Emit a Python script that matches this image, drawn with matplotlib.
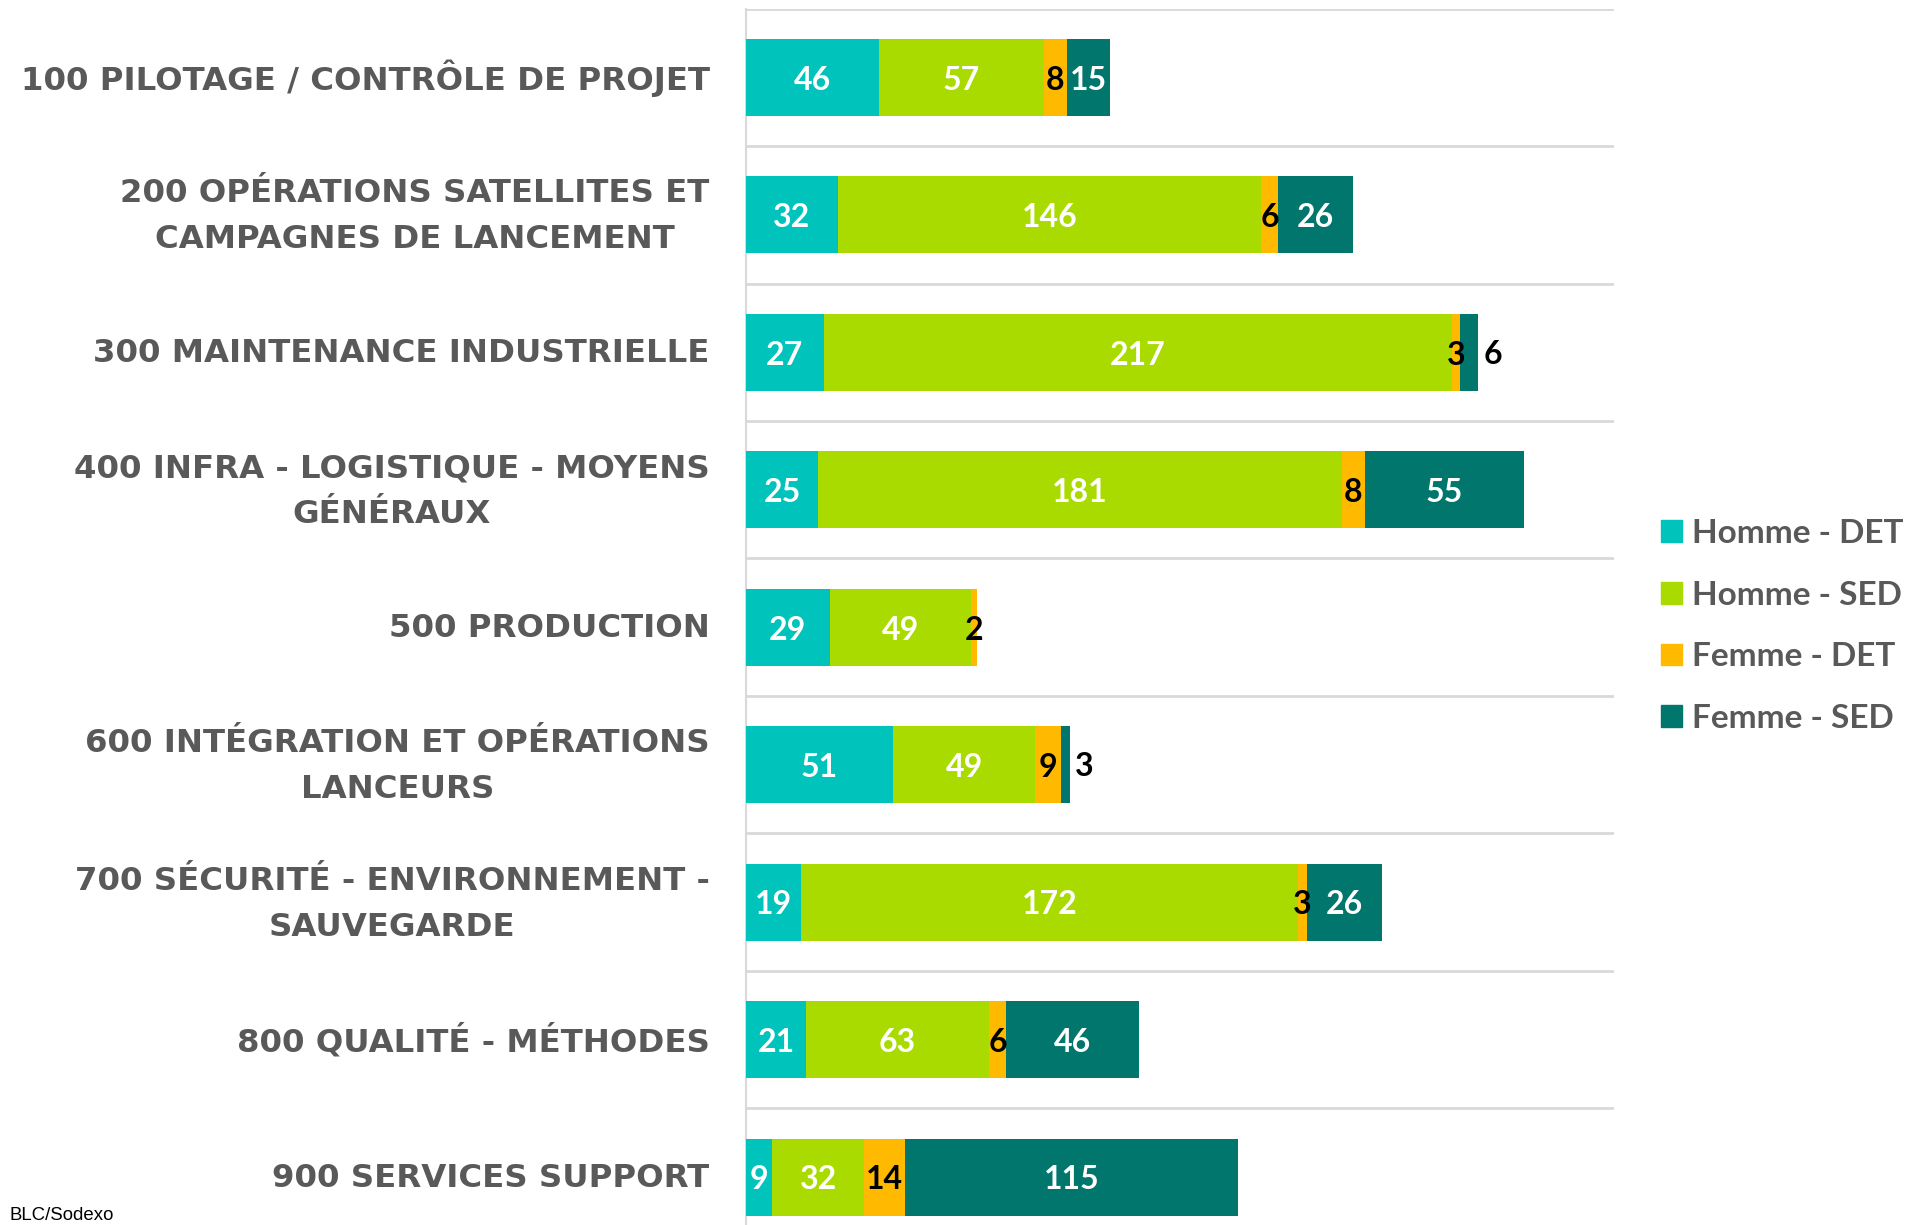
import numpy as np
import matplotlib.pyplot as plt
import matplotlib.transforms as mtransforms
from matplotlib.patches import Patch

# données par service
categories = [
    '100 PILOTAGE / CONTRÔLE DE PROJET',
    '200 OPÉRATIONS SATELLITES ET\nCAMPAGNES DE LANCEMENT',
    '300 MAINTENANCE INDUSTRIELLE',
    '400 INFRA - LOGISTIQUE - MOYENS\nGÉNÉRAUX',
    '500 PRODUCTION',
    '600 INTÉGRATION ET OPÉRATIONS\nLANCEURS',
    '700 SÉCURITÉ - ENVIRONNEMENT -\nSAUVEGARDE',
    '800 QUALITÉ - MÉTHODES',
    '900 SERVICES SUPPORT',
]
homme_det = [46, 32, 27, 25, 29, 51, 19, 21, 9]
homme_sed = [57, 146, 217, 181, 49, 49, 172, 63, 32]
femme_det = [8, 6, 3, 8, 2, 9, 3, 6, 14]
femme_sed = [15, 26, 6, 55, 0, 3, 26, 46, 115]

series_names = ['Homme - DET', 'Homme - SED', 'Femme - DET', 'Femme - SED']
series = [homme_det, homme_sed, femme_det, femme_sed]
colors = ['#00C4BB', '#A9DB00', '#FFBA00', '#00766D']

fig = plt.figure(figsize=(19.17, 12.25), dpi=100)
ax = fig.add_axes([0.389, -0.001, 0.4528, 0.994])

y = np.arange(len(categories))
left = np.zeros(len(categories))
for name, vals, col in zip(series_names, series, colors):
    vals = np.array(vals, dtype=float)
    ax.barh(y, vals, left=left, height=0.56, color=col, label=name, zorder=3)
    for i, v in enumerate(vals):
        if v <= 0:
            continue
        if name == 'Femme - SED' and v < 10:
            # petit segment : étiquette à droite de la barre
            ax.annotate(f'{int(v)}', (left[i] + v, y[i]), xytext=(4, -1.5),
                        textcoords='offset points', ha='left', va='center',
                        fontsize=23, fontweight='bold', family='Lato', color='black')
        else:
            txtcol = 'black' if name == 'Femme - DET' else 'white'
            ax.annotate(f'{int(v)}', (left[i] + v / 2, y[i]), xytext=(0, -2),
                        textcoords='offset points', ha='center', va='center',
                        fontsize=23, fontweight='bold', family='Lato', color=txtcol, zorder=4)
    left += vals

# lignes de séparation entre les catégories
ax.set_yticks(y)
ax.set_yticklabels(categories, fontsize=23.3, fontweight='bold', family='DejaVu Sans',
                   color='#595959', linespacing=1.62, multialignment='center')
ax.set_yticks(np.arange(len(categories) + 1) - 0.5, minor=True)
ax.tick_params(axis='y', which='both', length=0, pad=26)
ax.grid(axis='y', which='minor', color='#D9D9D9', linewidth=2, zorder=0)
ax.set_xticks([])
ax.set_xlim(0, 300)
ax.set_ylim(8.357, -0.5)
for s in ['top', 'right', 'bottom']:
    ax.spines[s].set_visible(False)
ax.spines['left'].set_color('#D9D9D9')
ax.spines['left'].set_linewidth(1.5)

# ajuster la position verticale des libellés
for lbl in ax.get_yticklabels():
    dy = 6.5 if '\n' in lbl.get_text() else 1.7
    shift = mtransforms.ScaledTranslation(0, dy / 72, fig.dpi_scale_trans)
    lbl.set_transform(lbl.get_transform() + shift)

handles = [Patch(color=c, label=n) for n, c in zip(series_names, colors)]
leg = fig.legend(handles=handles, loc='center left', bbox_to_anchor=(0.851, 0.489),
                 frameon=False, handlelength=0.62, handleheight=0.62, handletextpad=0.3,
                 labelspacing=0.98, prop={'family': 'Lato', 'weight': 'bold', 'size': 24})
for t in leg.get_texts():
    t.set_color('#595959')

fig.text(0.005, 0.004, 'BLC/Sodexo', fontsize=13.4, family='Liberation Sans', color='black')

fig.savefig('out.png', dpi=100)
